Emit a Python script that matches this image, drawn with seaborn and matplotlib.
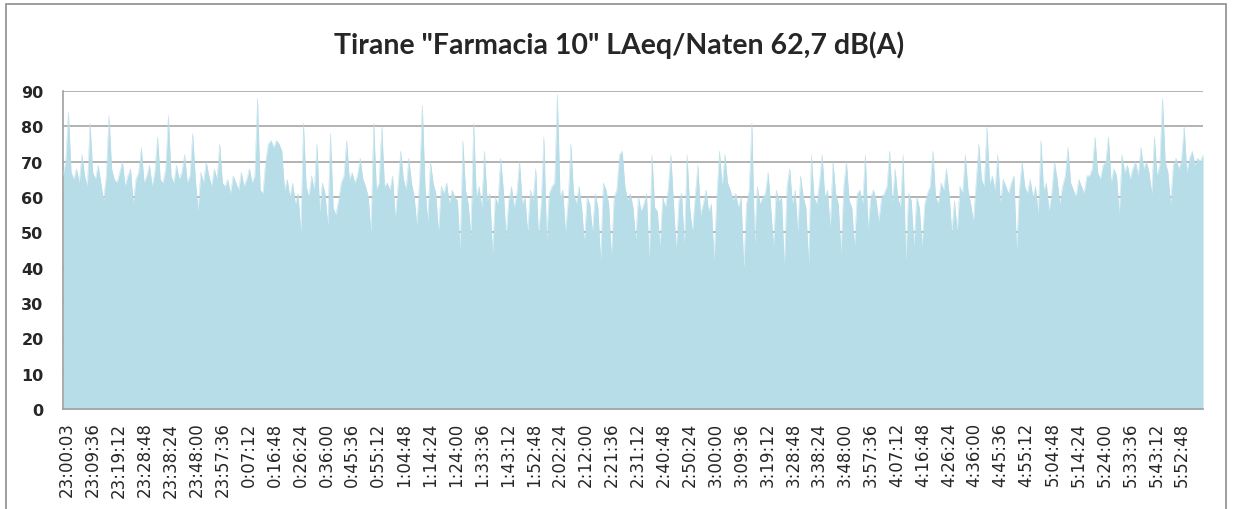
import numpy as np
import pandas as pd
import matplotlib
matplotlib.use("Agg")
import matplotlib.pyplot as plt
import seaborn as sns
from matplotlib.patches import Rectangle

# LAeq readings (dB(A)), one per minute from 23:00 on
laeq = [
    66, 70, 84, 67, 65, 68, 64, 72, 66, 63, 81, 67, 65, 69, 64, 59, 66, 83, 68, 65,
    64, 67, 70, 63, 66, 68, 58, 65, 67, 74, 64, 66, 69, 63, 67, 77, 65, 64, 68, 83,
    66, 64, 69, 65, 67, 72, 64, 66, 78, 65, 56, 67, 64, 70, 66, 63, 68, 65, 75, 64,
    63, 65, 61, 66, 64, 62, 67, 63, 65, 68, 64, 66, 88, 62, 61, 70, 75, 76, 74, 76,
    75, 73, 62, 65, 60, 64, 58, 61, 50, 81, 63, 60, 66, 62, 75, 56, 64, 61, 52, 78,
    57, 55, 59, 64, 66, 76, 65, 67, 64, 66, 71, 65, 63, 60, 50, 81, 62, 64, 80, 63,
    64, 62, 66, 54, 63, 73, 65, 62, 71, 64, 60, 52, 65, 86, 63, 53, 70, 64, 61, 50,
    63, 61, 64, 58, 62, 60, 59, 45, 76, 62, 58, 49, 81, 60, 63, 57, 73, 59, 61, 44,
    60, 58, 71, 62, 49, 59, 63, 57, 61, 70, 58, 60, 50, 62, 59, 68, 49, 58, 77, 48,
    61, 63, 64, 89, 60, 62, 50, 59, 75, 61, 58, 63, 57, 47, 60, 58, 50, 61, 57, 42,
    64, 62, 58, 43, 60, 62, 72, 73, 63, 59, 61, 57, 48, 60, 56, 58, 61, 42, 72, 57,
    56, 46, 60, 57, 62, 72, 58, 45, 59, 61, 46, 72, 57, 50, 60, 69, 55, 58, 62, 56,
    58, 42, 60, 73, 63, 72, 64, 62, 59, 61, 57, 60, 40, 58, 62, 81, 47, 63, 58, 60,
    61, 67, 57, 46, 62, 59, 60, 40, 63, 68, 58, 62, 50, 66, 60, 57, 41, 72, 60, 58,
    64, 72, 60, 62, 51, 70, 61, 58, 44, 63, 70, 59, 57, 46, 61, 62, 58, 72, 51, 60,
    62, 59, 53, 60, 61, 63, 73, 58, 68, 60, 57, 72, 42, 61, 59, 46, 60, 57, 46, 58,
    61, 63, 73, 60, 58, 64, 62, 68, 61, 50, 59, 50, 63, 61, 72, 62, 58, 53, 64, 75,
    65, 63, 80, 64, 66, 62, 72, 58, 65, 63, 61, 64, 66, 45, 62, 70, 63, 61, 65, 60,
    63, 55, 76, 62, 64, 56, 61, 70, 65, 58, 63, 66, 74, 64, 62, 60, 65, 63, 61, 66,
    66, 68, 77, 67, 65, 69, 70, 77, 64, 68, 66, 55, 72, 67, 69, 65, 68, 70, 66, 74,
    68, 70, 67, 61, 77, 66, 69, 88, 70, 67, 58, 69, 71, 68, 70, 80, 67, 71, 73, 69,
    71, 70, 72,
]

tick_labels = [
    "23:00:03", "23:09:36", "23:19:12", "23:28:48", "23:38:24", "23:48:00",
    "23:57:36", "0:07:12", "0:16:48", "0:26:24", "0:36:00", "0:45:36",
    "0:55:12", "1:04:48", "1:14:24", "1:24:00", "1:33:36", "1:43:12",
    "1:52:48", "2:02:24", "2:12:00", "2:21:36", "2:31:12", "2:40:48",
    "2:50:24", "3:00:00", "3:09:36", "3:19:12", "3:28:48", "3:38:24",
    "3:48:00", "3:57:36", "4:07:12", "4:16:48", "4:26:24", "4:36:00",
    "4:45:36", "4:55:12", "5:04:48", "5:14:24", "5:24:00", "5:33:36",
    "5:43:12", "5:52:48",
]
y_ticks = [0, 10, 20, 30, 40, 50, 60, 70, 80, 90]


def to_sec(label):
    # seconds since 23:00:00
    h, m, s = map(int, label.split(":"))
    if h >= 12:
        h -= 24
    return (h + 1) * 3600 + m * 60 + s


tick_pos = [to_sec(t) for t in tick_labels]
sample_sec = np.arange(len(laeq)) * 60 - 90
df = pd.DataFrame({"t": sample_sec, "laeq": laeq})

sns.set_style("white")
plt.rcParams["font.family"] = "DejaVu Sans"

fig = plt.figure(figsize=(12.33, 5.10), dpi=100)
ax = fig.add_axes([63 / 1233, 1 - 410 / 510, 1140 / 1233, 318 / 510])

area = "#B7DDE8"
ax.fill_between(df["t"], df["laeq"], 0, color=area, lw=0, zorder=2)
sns.lineplot(data=df, x="t", y="laeq", color=area, lw=0.3, estimator=None, ax=ax, zorder=3)

ax.set_xlim(sample_sec[0], sample_sec[-1])
ax.set_ylim(0, 90)
ax.set_yticks(y_ticks)
ax.set_yticklabels([str(v) for v in y_ticks], fontsize=11.5, weight="bold")
ax.set_xticks(tick_pos)
ax.set_xticklabels(tick_labels, rotation=90, fontsize=12)
ax.tick_params(axis="y", length=0, pad=14)
ax.tick_params(axis="x", length=0, pad=9)
ax.set_xlabel("")
ax.set_ylabel("")

ax.yaxis.grid(True, color="#A6A6A6", lw=1.2)
ax.xaxis.grid(False)
ax.set_axisbelow(True)
for side in ["left", "bottom"]:
    ax.spines[side].set_color("#A0A0A0")
    ax.spines[side].set_linewidth(1.2)
ax.spines["top"].set_visible(False)
ax.spines["right"].set_visible(False)

fig.text(0.502, 1 - 45 / 510, 'Tirane "Farmacia 10" LAeq/Naten 62,7 dB(A)',
         ha="center", va="center", fontsize=20.5, family="Lato", weight="bold")

fig.add_artist(Rectangle((6 / 1233, -0.05), 1220 / 1233, 1.05 - 5 / 510,
                         transform=fig.transFigure, fill=False,
                         ec="#8C8C8C", lw=1.2))

fig.savefig("out.png", dpi=100)
